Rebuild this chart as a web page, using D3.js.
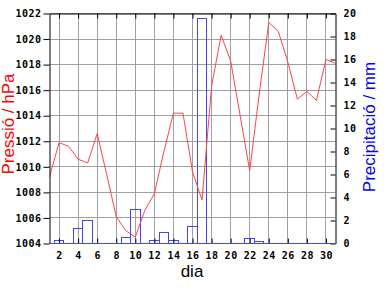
<!DOCTYPE html>
<html><head><meta charset="utf-8">
<script src="https://cdn.jsdelivr.net/npm/d3@7"></script>
<style>
html,body{margin:0;padding:0;background:#fff;}
svg{display:block;}
</style></head>
<body>
<svg id="c" width="384" height="288"></svg>
<script>
const days = d3.range(1, 32);
const pressure = [1009.2,1011.9,1011.6,1010.6,1010.3,1012.6,1009.4,1006.1,1005.0,1004.5,
  1006.6,1007.9,1011.2,1014.2,1014.2,1009.6,1007.4,1016.3,1020.3,1018.3,
  1014.0,1009.7,1015.7,1021.3,1020.6,1018.2,1015.3,1015.9,1015.2,1018.4,1018.1];
const precip = [0,0.3,0,1.3,2.0,0,0,0,0.5,3.0,
  0,0.3,1.0,0.3,0,1.5,19.6,0,0,0,
  0,0.4,0.2,0,0,0,0,0,0,0,0];
const xTicks = d3.range(2, 31, 2);
const pTicks = d3.range(1004, 1023, 2);
const rTicks = d3.range(0, 21, 2);

const svg = d3.select("#c");
const L = 49.5, R = 335.5, T = 13.5, B = 243.5;
const x = d3.scaleLinear().domain([1, 31]).range([L, R]);
const yP = d3.scaleLinear().domain([1004, 1022]).range([B, T]);
const yR = d3.scaleLinear().domain([0, 20]).range([B, T]);
const snap = v => Math.floor(v) + 0.5;

svg.append("defs").append("clipPath").attr("id", "clip")
  .append("rect").attr("x", L).attr("y", T - 1).attr("width", R - L).attr("height", B - T + 2);

// grid
const g = svg.append("g").attr("stroke", "#a0a0a0").attr("stroke-width", 1);
g.selectAll("line.v").data(xTicks).join("line")
  .attr("x1", d => snap(x(d))).attr("x2", d => snap(x(d))).attr("y1", T).attr("y2", B);
g.selectAll("line.h").data(pTicks).join("line")
  .attr("y1", d => snap(yP(d))).attr("y2", d => snap(yP(d))).attr("x1", L).attr("x2", R);

const font = "'DejaVu Sans Mono', monospace";

// bars
const bw = x(2) - x(1);
svg.append("g").attr("clip-path", "url(#clip)")
  .selectAll("rect").data(days).join("rect")
  .attr("x", (d) => snap(x(d) - bw / 2))
  .attr("width", (d) => snap(x(d) + bw / 2) - snap(x(d) - bw / 2))
  .attr("y", (d, i) => snap(yR(precip[i])))
  .attr("height", (d, i) => snap(yR(0)) - snap(yR(precip[i])))
  .attr("fill", "none").attr("stroke", "#4444ff").attr("stroke-width", 1);

// line
svg.append("path").datum(days)
  .attr("clip-path", "url(#clip)")
  .attr("fill", "none").attr("stroke", "#ff4444").attr("stroke-width", 1)
  .attr("d", d3.line().x(d => x(d)).y((d, i) => yP(pressure[i])));

function style(ax) {
  ax.selectAll("text").attr("font-family", font).attr("font-size", "10px").attr("font-weight", "bold").attr("fill", "#000").attr("letter-spacing", "0.5px");
  ax.selectAll("line").attr("stroke", "#000");
  ax.select(".domain").attr("stroke", "#000");
}

// axes
const axB = svg.append("g").attr("transform", `translate(0,${B})`)
  .call(d3.axisBottom(x).tickValues(xTicks).tickSizeInner(-5).tickSizeOuter(0).tickPadding(8).tickFormat(d3.format("d")));
style(axB);
axB.select(".domain").remove();
const axT = svg.append("g").attr("transform", `translate(0,${T})`)
  .call(d3.axisTop(x).tickValues(xTicks).tickSizeInner(-5).tickSizeOuter(0).tickFormat(""));
style(axT);
const axL = svg.append("g").attr("transform", `translate(${L},0)`)
  .call(d3.axisLeft(yP).tickValues(pTicks).tickSizeInner(6).tickSizeOuter(0).tickPadding(2).tickFormat(d3.format("d")));
style(axL);
const axR = svg.append("g").attr("transform", `translate(${R},0)`)
  .call(d3.axisRight(yR).tickValues(rTicks).tickSizeInner(-5).tickSizeOuter(0).tickPadding(8).tickFormat(d3.format("d")));
style(axR);
// blue baseline
svg.append("line").attr("x1", L).attr("x2", R).attr("y1", B).attr("y2", B).attr("stroke", "#4444ff");

const tf = "'Liberation Sans', Arial, sans-serif";
svg.append("text").text("dia").attr("x", 192).attr("y", 277)
  .attr("text-anchor", "middle").attr("font-family", tf).attr("font-size", "17px").attr("fill", "#000");
svg.append("text").text("Pressió / hPa")
  .attr("transform", "translate(14,124) rotate(-90)")
  .attr("text-anchor", "middle").attr("font-family", tf).attr("font-size", "17px").attr("fill", "#ff0000");
svg.append("text").text("Precipitació / mm")
  .attr("transform", "translate(375,127) rotate(-90)")
  .attr("text-anchor", "middle").attr("font-family", tf).attr("font-size", "17px").attr("fill", "#0000ff");
</script>
</body></html>
